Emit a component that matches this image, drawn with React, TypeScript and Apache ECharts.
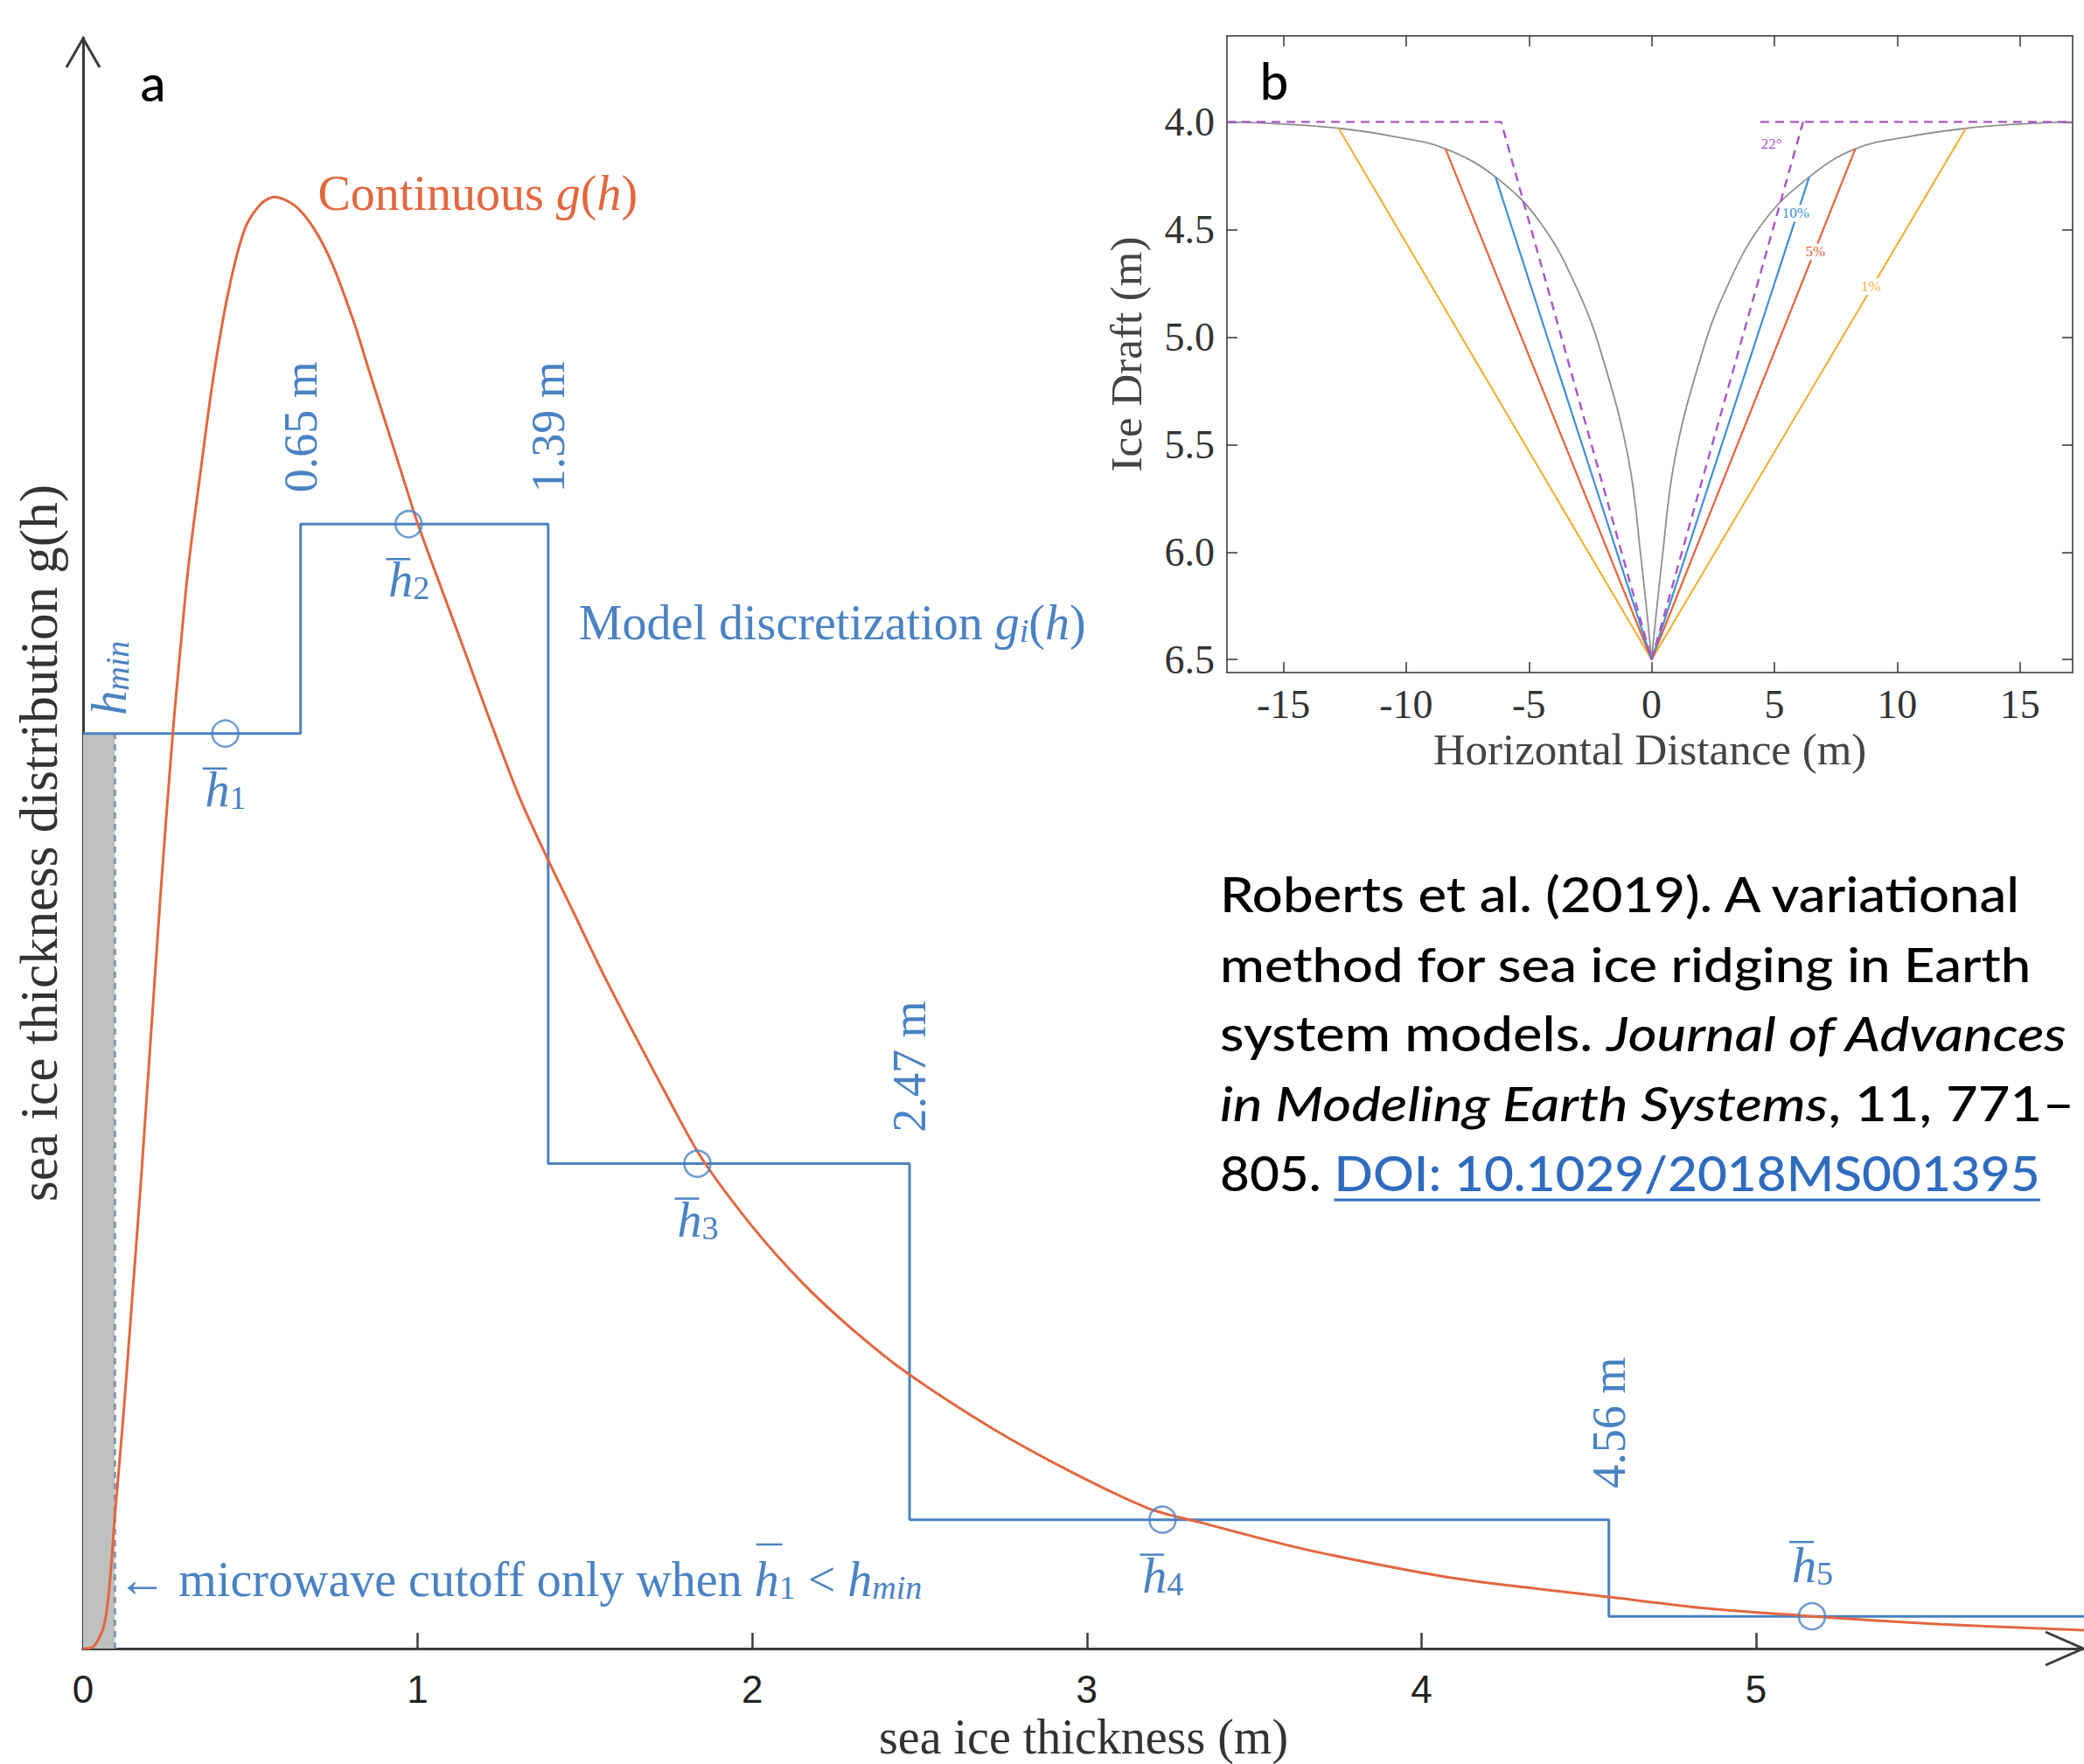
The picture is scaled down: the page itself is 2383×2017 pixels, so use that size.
import React, { useEffect, useRef } from 'react';
import * as echarts from 'echarts';

// ---------------- Panel a data ----------------
const thicknessTicks = [0, 1, 2, 3, 4, 5];
const gH = [0, 0.03, 0.063, 0.081, 0.095, 0.119, 0.147, 0.175, 0.231, 0.268, 0.287, 0.315, 0.352, 0.39, 0.436, 0.483, 0.53, 0.571, 0.632, 0.688, 0.744, 0.81, 0.856, 0.912, 0.968, 1.001, 1.071, 1.146, 1.211, 1.305, 1.384, 1.461, 1.566, 1.753, 1.85, 2.0, 2.15, 2.3, 2.465, 2.716, 2.95, 3.183, 3.335, 3.65, 4.0, 4.17, 4.56, 4.853, 5.167, 5.552, 5.98];
const gVal = [0, 0.001, 0.0147, 0.0438, 0.0826, 0.1408, 0.218, 0.296, 0.4665, 0.568, 0.612, 0.672, 0.732, 0.79, 0.844, 0.881, 0.8965, 0.901, 0.8958, 0.8821, 0.8599, 0.823, 0.7924, 0.7558, 0.7191, 0.6978, 0.658, 0.616, 0.579, 0.528, 0.492, 0.459, 0.414, 0.34, 0.304, 0.262, 0.227, 0.198, 0.1707, 0.1368, 0.11, 0.0871, 0.0785, 0.0617, 0.0471, 0.0415, 0.032, 0.025, 0.02, 0.0151, 0.0114];
const binEdges = [0, 0.65, 1.39, 2.47, 4.56, 5.98];
const binLevels = [0.568, 0.698, 0.301, 0.08, 0.02];
const binEdgeLabels = ['0.65 m', '1.39 m', '2.47 m', '4.56 m'];
const hBar = [0.425, 0.973, 1.836, 3.226, 5.167];
const hBarLabelBelow = [true, true, true, true, false];
const hMin = 0.095;

// ---------------- Panel b data ----------------
const distTicks = [-15, -10, -5, 0, 5, 10, 15];
const draftTicks = [4, 4.5, 5, 5.5, 6, 6.5];
const ridgeLeftX = [-17.3, -15, -12.7, -10.5, -8.4, -6.36, -4.52, -2.98, -1.96, -0.94, -0.43, 0];
const ridgeLeftDraft = [4.0, 4.01, 4.03, 4.068, 4.125, 4.256, 4.47, 4.79, 5.11, 5.57, 6.03, 6.5];
const ridgeRightX = [0, 0.43, 0.94, 1.96, 2.98, 4.52, 6.42, 8.3, 10.5, 12.8, 15, 17.15];
const ridgeRightDraft = [6.5, 6.03, 5.57, 5.11, 4.79, 4.47, 4.256, 4.125, 4.068, 4.03, 4.01, 4.0];
const porosity1X = [-12.75, 0, 12.8];
const porosity1Draft = [4.03, 6.5, 4.03];
const porosity5X = [-8.4, 0, 8.3];
const porosity5Draft = [4.125, 6.5, 4.125];
const porosity10X = [-6.36, 0, 6.42];
const porosity10Draft = [4.256, 6.5, 4.256];
const angle22X = [-17.3, -6.13, 0, 6.17];
const angle22Draft = [4.0, 4.0, 6.5, 4.0];
const angle22FlatX = [4.43, 17.15];
const angle22FlatDraft = [4.0, 4.0];
const curveLabels = ['22°', '10%', '5%', '1%'];
const curveLabelX = [4.88, 5.87, 6.67, 8.93];
const curveLabelDraft = [4.104, 4.425, 4.604, 4.766];

// citation: fragments [style, text] per line, and target line widths
const citationLines: [string, string][][] = [
  [['n', 'Roberts et al. (2019). A variational']],
  [['n', 'method for sea ice ridging in Earth']],
  [['n', 'system models. '], ['i', 'Journal of Advances']],
  [['i', 'in Modeling Earth Systems'], ['n', ', 11, 771–']],
  [['n', '805. '], ['d', 'DOI: 10.1029/2018MS001395']],
];
const citationWidths = [920, 929, 970, 977, 938];

const zip = (xs: number[], ys: number[]) => xs.map((x, i) => [x, ys[i]]);

export default function App() {
  const ref = useRef<HTMLDivElement>(null);
  useEffect(() => {
    const el = ref.current!;
    const chart = echarts.init(el, null, { renderer: 'svg' });
    const serif = "'Liberation Serif', 'DejaVu Serif', serif";
    const sans = "'Liberation Sans', Arial, sans-serif";
    const cite = "Lato, 'Open Sans', sans-serif";
    const BLUE = '#4a82c3';
    const ORANGE = '#e2673f';
    const AX = '#3c3c3c';
    const Y1 = '#f0b23c';
    const R1 = '#e8643a';
    const B1 = '#3f8fd6';
    const P1 = '#a855c8';

    const stepData: number[][] = [];
    binLevels.forEach((lv, i) => {
      stepData.push([binEdges[i], lv]);
      stepData.push([binEdges[i + 1], lv]);
    });

    const bAxisCommon = {
      type: 'value',
      gridIndex: 1,
      splitLine: { show: false },
      axisLine: { show: true, onZero: false, lineStyle: { color: '#333', width: 1.5 } },
    };

    const option: any = {
      animation: false,
      backgroundColor: '#ffffff',
      grid: [
        { left: 95, top: 43, width: 2288, height: 1842, outerBoundsMode: 'none' },
        { left: 1403, top: 41, width: 967, height: 728, outerBoundsMode: 'none' },
      ],
      xAxis: [
        {
          gridIndex: 0, type: 'value', min: 0, max: 5.98,
          name: 'sea ice thickness (m)', nameLocation: 'middle', nameGap: 46,
          nameTextStyle: { fontFamily: serif, fontSize: 56, color: '#333' },
          axisLine: { show: true, onZero: false, lineStyle: { color: AX, width: 3 } },
          axisTick: { show: true, inside: true, length: 18, customValues: thicknessTicks.filter((v) => v > 0), lineStyle: { color: AX, width: 2.5 } },
          axisLabel: { show: true, customValues: thicknessTicks, margin: 24, fontFamily: sans, fontSize: 44, color: '#222' },
          splitLine: { show: false },
        },
        {
          ...bAxisCommon, position: 'bottom', min: -17.3, max: 17.15,
          name: 'Horizontal Distance (m)', nameLocation: 'middle', nameGap: 62,
          nameTextStyle: { fontFamily: serif, fontSize: 51, color: '#444' },
          axisTick: { show: true, inside: true, length: 12, customValues: distTicks, lineStyle: { color: '#333', width: 1.5 } },
          axisLabel: { show: true, customValues: distTicks, margin: 13, fontFamily: serif, fontSize: 46, color: '#333' },
        },
        {
          ...bAxisCommon, position: 'top', min: -17.3, max: 17.15,
          axisTick: { show: true, inside: true, length: 12, customValues: distTicks, lineStyle: { color: '#333', width: 1.5 } },
          axisLabel: { show: false },
        },
      ],
      yAxis: [
        {
          gridIndex: 0, type: 'value', min: 0, max: 1,
          name: 'sea ice thickness distribution g(h)', nameLocation: 'middle', nameGap: 20, nameRotate: 90,
          nameTextStyle: { fontFamily: serif, fontSize: 61, color: '#333' },
          axisLine: { show: true, onZero: false, lineStyle: { color: AX, width: 3 } },
          axisTick: { show: false }, axisLabel: { show: false }, splitLine: { show: false },
        },
        {
          ...bAxisCommon, position: 'left', inverse: true, min: 3.6, max: 6.56,
          name: 'Ice Draft (m)', nameLocation: 'middle', nameGap: 90, nameRotate: 90,
          nameTextStyle: { fontFamily: serif, fontSize: 51, color: '#444' },
          axisTick: { show: true, inside: true, length: 12, customValues: draftTicks, lineStyle: { color: '#333', width: 1.5 } },
          axisLabel: { show: true, customValues: draftTicks, margin: 14, fontFamily: serif, fontSize: 46, color: '#333', formatter: (v: number) => v.toFixed(1) },
        },
        {
          ...bAxisCommon, position: 'right', inverse: true, min: 3.6, max: 6.56,
          axisTick: { show: true, inside: true, length: 12, customValues: draftTicks, lineStyle: { color: '#333', width: 1.5 } },
          axisLabel: { show: false },
        },
      ],
      series: [
        {
          type: 'line', xAxisIndex: 0, yAxisIndex: 0, data: [], silent: true,
          markArea: { silent: true, itemStyle: { color: '#c0c0c0' }, data: [[{ coord: [0, 0] }, { coord: [hMin, binLevels[0]] }]] },
        },
        {
          type: 'line', xAxisIndex: 0, yAxisIndex: 0, data: [[hMin, 0], [hMin, binLevels[0]]], showSymbol: false,
          lineStyle: { color: '#8796ab', width: 3, type: [7, 6] }, z: 3,
        },
        {
          type: 'line', xAxisIndex: 0, yAxisIndex: 0, data: stepData, showSymbol: false,
          lineStyle: { color: BLUE, width: 3 }, z: 4,
        },
        {
          type: 'line', xAxisIndex: 0, yAxisIndex: 0, data: zip(gH, gVal), smooth: 0.3, showSymbol: false,
          lineStyle: { color: ORANGE, width: 3 }, z: 5,
        },
        {
          type: 'scatter', xAxisIndex: 0, yAxisIndex: 0, data: zip(hBar, binLevels), symbol: 'circle', symbolSize: 30,
          itemStyle: { color: 'rgba(0,0,0,0)', borderColor: BLUE, borderWidth: 2.5 }, z: 6,
        },
        { type: 'line', xAxisIndex: 1, yAxisIndex: 1, data: zip(ridgeLeftX, ridgeLeftDraft), smooth: 0.4, showSymbol: false, lineStyle: { color: '#8f8f8f', width: 1.8 }, z: 3 },
        { type: 'line', xAxisIndex: 1, yAxisIndex: 1, data: zip(ridgeRightX, ridgeRightDraft), smooth: 0.4, showSymbol: false, lineStyle: { color: '#8f8f8f', width: 1.8 }, z: 3 },
        { type: 'line', xAxisIndex: 1, yAxisIndex: 1, data: zip(porosity1X, porosity1Draft), showSymbol: false, lineStyle: { color: Y1, width: 2.2 }, z: 4 },
        { type: 'line', xAxisIndex: 1, yAxisIndex: 1, data: zip(porosity5X, porosity5Draft), showSymbol: false, lineStyle: { color: R1, width: 2.2 }, z: 4 },
        { type: 'line', xAxisIndex: 1, yAxisIndex: 1, data: zip(porosity10X, porosity10Draft), showSymbol: false, lineStyle: { color: B1, width: 2.2 }, z: 4 },
        { type: 'line', xAxisIndex: 1, yAxisIndex: 1, data: zip(angle22X, angle22Draft), showSymbol: false, lineStyle: { color: P1, width: 2.4, type: [10, 7] }, z: 5 },
        { type: 'line', xAxisIndex: 1, yAxisIndex: 1, data: zip(angle22FlatX, angle22FlatDraft), showSymbol: false, lineStyle: { color: P1, width: 2.4, type: [10, 7] }, z: 5 },
      ],
    };
    chart.setOption(option);

    const pa = (x: number, y: number) => chart.convertToPixel({ seriesIndex: 2 }, [x, y]) as number[];
    const pb = (x: number, y: number) => chart.convertToPixel({ seriesIndex: 7 }, [x, y]) as number[];

    const cv = document.createElement('canvas').getContext('2d')!;
    const measure = (t: string, font: string) => { cv.font = font; return cv.measureText(t).width; };

    const G: any[] = [];
    const txt = (x: number, y: number, text: string, style: any, extra: any = {}) => {
      G.push({ type: 'text', x, y, z: 100, ...extra, style: { text, align: 'left', verticalAlign: 'middle', ...style } });
    };

    // axis arrows
    const yTip = pa(0, 1);
    G.push({ type: 'polyline', z: 100, shape: { points: [[yTip[0] - 19, yTip[1] + 34], [yTip[0], yTip[1] + 1], [yTip[0] + 19, yTip[1] + 34]] }, style: { stroke: AX, lineWidth: 3, fill: null } });
    const xTip = pa(binEdges[binEdges.length - 1], 0);
    G.push({ type: 'polyline', z: 100, shape: { points: [[xTip[0] - 44, xTip[1] - 19], [xTip[0] - 1, xTip[1]], [xTip[0] - 44, xTip[1] + 19]] }, style: { stroke: AX, lineWidth: 3, fill: null } });

    // panel letters
    txt(175, 93, 'a', { fontFamily: cite, fontSize: 58, fontWeight: 500, fill: '#000', align: 'center' });
    txt(1457, 91, 'b', { fontFamily: cite, fontSize: 58, fontWeight: 500, fill: '#000', align: 'center' });

    const F = 56;
    const richA = (col: string) => ({
      n: { fontFamily: serif, fontSize: F, fill: col },
      i: { fontFamily: serif, fontSize: F, fontStyle: 'italic', fill: col },
      s: { fontFamily: serif, fontSize: 38, lineHeight: 22, verticalAlign: 'bottom', fill: col },
      si: { fontFamily: serif, fontSize: 38, fontStyle: 'italic', lineHeight: 22, verticalAlign: 'bottom', fill: col },
    });

    const peakIdx = gVal.indexOf(Math.max(...gVal));
    const pk = pa(gH[peakIdx], gVal[peakIdx]);
    txt(pk[0] + 50, pk[1] - 4, '{n|Continuous }{i|g}{n|(}{i|h}{n|)}', { fill: ORANGE, rich: richA(ORANGE) });

    const md = pa(binEdges[2], binLevels[1]);
    txt(md[0] + 35, md[1] + 113, '{n|Model discretization }{i|g}{si|i}{n|(}{i|h}{n|)}', { fill: BLUE, rich: richA(BLUE) });

    binEdgeLabels.forEach((lab, k) => {
      const e = binEdges[k + 1];
      const top = Math.max(binLevels[k], binLevels[k + 1]);
      const p = pa(e, top);
      txt(p[0], p[1] - 36, lab, { fontFamily: serif, fontSize: 54, fill: BLUE }, { rotation: Math.PI / 2 });
    });

    const hm = pa(hMin, binLevels[0]);
    txt(hm[0] - 6, hm[1] - 21, '{i|h}{si|min}', { fill: BLUE, rich: richA(BLUE) }, { rotation: Math.PI / 2 });

    hBar.forEach((hb, k) => {
      const p = pa(hb, binLevels[k]);
      const below = hBarLabelBelow[k];
      const cy = below ? p[1] + 64 : p[1] - 58;
      const by = below ? p[1] + 40 : p[1] - 85;
      txt(p[0] - 23, cy, '{i|h}{s|' + (k + 1) + '}', { fill: BLUE, rich: richA(BLUE) });
      G.push({ type: 'line', z: 100, shape: { x1: p[0] - 26, y1: by, x2: p[0] + 2, y2: by }, style: { stroke: BLUE, lineWidth: 2.5 } });
    });

    const mw = pa(hMin, 0);
    const mwX = mw[0] + 3;
    const mwY = mw[1] - 79;
    const pre = '← microwave cutoff only when ';
    txt(mwX, mwY, '{n|' + pre + '}{i|h}{s|1}{n| < }{i|h}{si|min}', { fill: BLUE, rich: richA(BLUE) });
    const wPre = measure(pre, `${F}px ${serif}`);
    const wH = measure('h', `italic ${F}px ${serif}`);
    G.push({ type: 'line', z: 100, shape: { x1: mwX + wPre + 2, y1: mwY - 40, x2: mwX + wPre + wH + 4, y2: mwY - 40 }, style: { stroke: BLUE, lineWidth: 2.5 } });

    const bCols = [P1, B1, R1, Y1];
    curveLabels.forEach((lab, k) => {
      const p = pb(curveLabelX[k], curveLabelDraft[k]);
      txt(p[0], p[1], lab, { fontFamily: serif, fontSize: 17, fill: bCols[k], align: 'center', backgroundColor: '#fff', padding: [1, 2] });
    });

    // citation (each line fitted to the reference line width)
    const CF = 55;
    const CW = 500;
    const fontOf = (s: string) => `${s === 'i' ? 'italic ' : ''}${CW} ${CF}px ${cite}`;
    const richC = {
      n: { fontFamily: cite, fontSize: CF, fontWeight: CW, fill: '#000' },
      i: { fontFamily: cite, fontSize: CF, fontWeight: CW, fontStyle: 'italic', fill: '#000' },
      d: { fontFamily: cite, fontSize: CF, fontWeight: CW, fill: '#2f6bbf' },
    };
    const lineY = [1021, 1101, 1181, 1261, 1341];
    const X0 = 1395;
    citationLines.forEach((frags, k) => {
      const natural = frags.reduce((a, [s, t]) => a + measure(t, fontOf(s)), 0);
      const sx = citationWidths[k] / natural;
      const text = frags.map(([s, t]) => `{${s}|${t}}`).join('');
      txt(X0, lineY[k], text, { fill: '#000', rich: richC }, { scaleX: sx });
      if (k === 4) {
        const w805 = measure(frags[0][1], fontOf('n')) * sx;
        const wDoi = measure(frags[1][1], fontOf('d')) * sx;
        G.push({ type: 'line', z: 100, shape: { x1: X0 + w805, y1: 1372, x2: X0 + w805 + wDoi, y2: 1372 }, style: { stroke: '#2f6bbf', lineWidth: 3 } });
      }
    });

    chart.setOption({ graphic: G });
    return () => chart.dispose();
  }, []);
  return <div ref={ref} style={{ position: 'absolute', left: 0, top: 0, width: 2383, height: 2017, background: '#fff' }} />;
}
